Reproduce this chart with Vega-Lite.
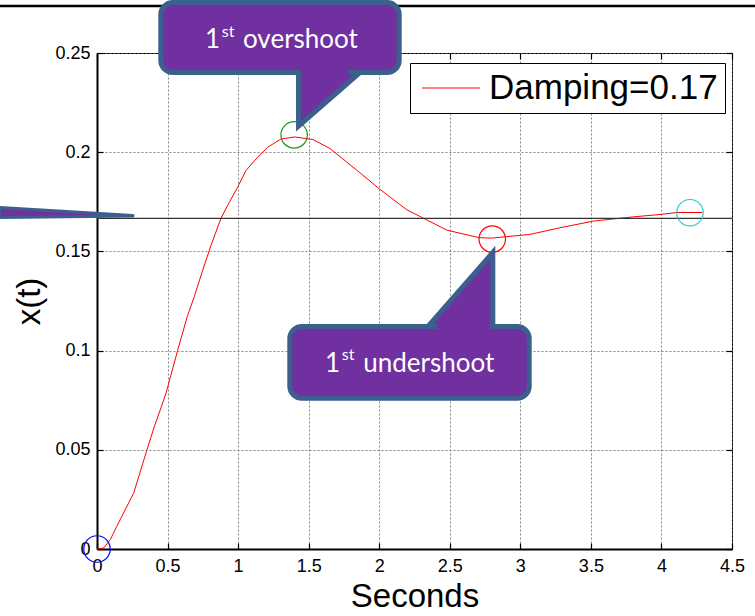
{
  "$schema": "https://vega.github.io/schema/vega-lite/v6.json",
  "width": 635,
  "height": 496,
  "autosize": {"type": "none"},
  "padding": {"left": 97, "top": 53, "right": 23, "bottom": 67},
  "background": "white",
  "config": {
    "view": {"stroke": "black", "strokeWidth": 1},
    "font": "Liberation Sans"
  },
  "datasets": {
    "curve": [
      {"t": 0, "x": 0, "series": "Damping=0.17"},
      {"t": 0.047, "x": 0.0005, "series": "Damping=0.17"},
      {"t": 0.094, "x": 0.0047, "series": "Damping=0.17"},
      {"t": 0.14, "x": 0.0114, "series": "Damping=0.17"},
      {"t": 0.26, "x": 0.0282, "series": "Damping=0.17"},
      {"t": 0.354, "x": 0.05, "series": "Damping=0.17"},
      {"t": 0.405, "x": 0.0614, "series": "Damping=0.17"},
      {"t": 0.488, "x": 0.0782, "series": "Damping=0.17"},
      {"t": 0.571, "x": 0.1, "series": "Damping=0.17"},
      {"t": 0.642, "x": 0.1177, "series": "Damping=0.17"},
      {"t": 0.688, "x": 0.1269, "series": "Damping=0.17"},
      {"t": 0.748, "x": 0.1403, "series": "Damping=0.17"},
      {"t": 0.807, "x": 0.1529, "series": "Damping=0.17"},
      {"t": 0.877, "x": 0.1664, "series": "Damping=0.17"},
      {"t": 0.925, "x": 0.1731, "series": "Damping=0.17"},
      {"t": 0.996, "x": 0.1823, "series": "Damping=0.17"},
      {"t": 1.055, "x": 0.1907, "series": "Damping=0.17"},
      {"t": 1.137, "x": 0.1974, "series": "Damping=0.17"},
      {"t": 1.208, "x": 0.2024, "series": "Damping=0.17"},
      {"t": 1.302, "x": 0.2066, "series": "Damping=0.17"},
      {"t": 1.4, "x": 0.2077, "series": "Damping=0.17"},
      {"t": 1.53, "x": 0.2064, "series": "Damping=0.17"},
      {"t": 1.65, "x": 0.2019, "series": "Damping=0.17"},
      {"t": 1.84, "x": 0.191, "series": "Damping=0.17"},
      {"t": 2.01, "x": 0.181, "series": "Damping=0.17"},
      {"t": 2.195, "x": 0.171, "series": "Damping=0.17"},
      {"t": 2.48, "x": 0.1607, "series": "Damping=0.17"},
      {"t": 2.71, "x": 0.1569, "series": "Damping=0.17"},
      {"t": 2.8, "x": 0.1567, "series": "Damping=0.17"},
      {"t": 2.9, "x": 0.1574, "series": "Damping=0.17"},
      {"t": 3.07, "x": 0.1586, "series": "Damping=0.17"},
      {"t": 3.28, "x": 0.1619, "series": "Damping=0.17"},
      {"t": 3.52, "x": 0.1653, "series": "Damping=0.17"},
      {"t": 3.8, "x": 0.1674, "series": "Damping=0.17"},
      {"t": 3.99, "x": 0.1686, "series": "Damping=0.17"},
      {"t": 4.11, "x": 0.1696, "series": "Damping=0.17"},
      {"t": 4.29, "x": 0.1696, "series": "Damping=0.17"}
    ],
    "circles": [
      {"t": 0, "x": 0, "c": "#0000FF"},
      {"t": 1.397, "x": 0.2087, "c": "#1A961A"},
      {"t": 2.801, "x": 0.1562, "c": "#FF0000"},
      {"t": 4.202, "x": 0.1695, "c": "#2FC8C8"}
    ],
    "levels": [
      {"x": 0, "x2": 4.5, "y": 0.16667}
    ],
    "border": [
      {"x": -0.6874, "x2": 4.663, "y": 0.2737}
    ],
    "wedge": [
      {"x": -0.6874, "y": 0.16709, "y2": 0.17213},
      {"x": 0.2551, "y": 0.16784, "y2": 0.1681}
    ],
    "tails": [
      {"id": "a", "x": 1.428, "y": 0.21321, "y2": 0.24017},
      {"id": "a", "x": 1.8638, "y": 0.24017, "y2": 0.24017},
      {"id": "b", "x": 2.3457, "y": 0.11215, "y2": 0.11215},
      {"id": "b", "x": 2.805, "y": 0.14945, "y2": 0.11215}
    ],
    "boxes": [
      {"x": 0.4521, "x2": 2.1416, "y": 0.24017, "y2": 0.27545},
      {"x": 1.3663, "x2": 3.0628, "y": 0.07601, "y2": 0.11215}
    ],
    "joins": [
      {"x": 1.4457, "x2": 1.7787, "y": 0.2379, "y2": 0.24194},
      {"x": 2.4094, "x2": 2.7815, "y": 0.10988, "y2": 0.11442}
    ],
    "texts": [
      {"x": 0.7654, "y": 0.25237, "label": "1"},
      {"x": 1.0346, "y": 0.25237, "label": "overshoot"},
      {"x": 1.6157, "y": 0.08936, "label": "1"},
      {"x": 1.8872, "y": 0.08936, "label": "undershoot"}
    ],
    "sups": [
      {"x": 0.8837, "y": 0.25822, "label": "st"},
      {"x": 1.7341, "y": 0.09526, "label": "st"}
    ]
  },
  "resolve": {"axis": {"x": "independent", "y": "independent"}},
  "layer": [
    {
      "data": {"name": "curve"},
      "mark": {"type": "line", "strokeWidth": 1, "interpolate": "linear"},
      "encoding": {
        "x": {
          "field": "t", "type": "quantitative",
          "scale": {"domain": [0, 4.5], "nice": false, "zero": false},
          "axis": {
            "orient": "bottom", "values": [0, 0.5, 1, 1.5, 2, 2.5, 3, 3.5, 4, 4.5], "format": "~g",
            "grid": true, "gridColor": "#666666", "gridDash": [2, 2], "gridWidth": 0.8,
            "domain": true, "domainColor": "black", "domainWidth": 2,
            "ticks": true, "tickSize": -6, "tickColor": "black", "tickWidth": 1.2,
            "labelFont": "Liberation Sans", "labelFontSize": 18, "labelColor": "black",
            "labelPadding": 14, "labelFlush": false,
            "title": "Seconds", "titleFont": "Liberation Sans", "titleFontSize": 33,
            "titleFontWeight": "normal", "titleColor": "black", "titlePadding": 5, "zindex": 0
          }
        },
        "y": {
          "field": "x", "type": "quantitative",
          "scale": {"domain": [0, 0.25], "nice": false, "zero": false},
          "axis": {
            "orient": "left", "values": [0, 0.05, 0.1, 0.15, 0.2, 0.25], "format": "~g",
            "grid": true, "gridColor": "#666666", "gridDash": [2, 2], "gridWidth": 0.8,
            "domain": true, "domainColor": "black", "domainWidth": 2,
            "ticks": true, "tickSize": -6, "tickColor": "black", "tickWidth": 1.2,
            "labelFont": "Liberation Sans", "labelFontSize": 18, "labelColor": "black",
            "labelPadding": 13, "labelFlush": false,
            "title": "x(t)", "titleFont": "Liberation Sans", "titleFontSize": 33,
            "titleFontWeight": "normal", "titleColor": "black", "titlePadding": 8, "zindex": 0
          }
        },
        "color": {
          "field": "series", "type": "nominal",
          "scale": {"domain": ["Damping=0.17"], "range": ["#FF0000"]},
          "legend": {
            "title": null, "orient": "none", "legendX": 313, "legendY": 10,
            "symbolType": "M-1.66,0L1.66,0", "symbolSize": 1225, "symbolStrokeWidth": 1,
            "labelFont": "Liberation Sans", "labelFontSize": 35, "labelColor": "black",
            "labelLimit": 0, "labelOffset": 20, "padding": 7, "symbolOffset": 16,
            "strokeColor": "black", "fillColor": "white"
          }
        }
      }
    },
    {
      "data": {"name": "levels"},
      "mark": {"type": "rule", "color": "#333333", "strokeWidth": 1.2},
      "encoding": {
        "x": {
          "field": "x", "type": "quantitative",
          "scale": {"domain": [0, 4.5], "nice": false, "zero": false},
          "axis": {
            "orient": "top", "values": [0, 0.5, 1, 1.5, 2, 2.5, 3, 3.5, 4, 4.5],
            "grid": false, "domain": false, "labels": false, "title": null,
            "ticks": true, "tickSize": -6, "tickColor": "black", "tickWidth": 1.2, "zindex": 0
          }
        },
        "x2": {"field": "x2"},
        "y": {
          "field": "y", "type": "quantitative",
          "scale": {"domain": [0, 0.25], "nice": false, "zero": false},
          "axis": {
            "orient": "right", "values": [0, 0.05, 0.1, 0.15, 0.2, 0.25],
            "grid": false, "domain": false, "labels": false, "title": null,
            "ticks": true, "tickSize": -6, "tickColor": "black", "tickWidth": 1.2, "zindex": 0
          }
        }
      }
    },
    {
      "data": {"name": "border"},
      "mark": {"type": "rule", "color": "black", "strokeWidth": 2.5, "clip": false},
      "encoding": {
        "x": {"field": "x", "type": "quantitative", "scale": {"domain": [0, 4.5], "nice": false, "zero": false}, "axis": null},
        "x2": {"field": "x2"},
        "y": {"field": "y", "type": "quantitative", "scale": {"domain": [0, 0.25], "nice": false, "zero": false}, "axis": null}
      }
    },
    {
      "data": {"name": "circles"},
      "mark": {"type": "point", "shape": "circle", "filled": false, "size": 700, "strokeWidth": 1.2, "opacity": 1},
      "encoding": {
        "x": {"field": "t", "type": "quantitative", "scale": {"domain": [0, 4.5], "nice": false, "zero": false}, "axis": null},
        "y": {"field": "x", "type": "quantitative", "scale": {"domain": [0, 0.25], "nice": false, "zero": false}, "axis": null},
        "stroke": {"field": "c", "type": "nominal", "scale": null, "legend": null}
      }
    },
    {
      "data": {"name": "wedge"},
      "mark": {"type": "area", "orient": "vertical", "fill": "#7030A0", "stroke": "#3C5F8E", "strokeWidth": 3, "strokeJoin": "round", "clip": false},
      "encoding": {
        "x": {"field": "x", "type": "quantitative", "scale": {"domain": [0, 4.5], "nice": false, "zero": false}, "axis": null},
        "y": {"field": "y", "type": "quantitative", "scale": {"domain": [0, 0.25], "nice": false, "zero": false}, "axis": null},
        "y2": {"field": "y2"}
      }
    },
    {
      "data": {"name": "tails"},
      "mark": {"type": "area", "orient": "vertical", "fill": "#7030A0", "stroke": "#3C5F8E", "strokeWidth": 5, "clip": false},
      "encoding": {
        "x": {"field": "x", "type": "quantitative", "scale": {"domain": [0, 4.5], "nice": false, "zero": false}, "axis": null},
        "y": {"field": "y", "type": "quantitative", "scale": {"domain": [0, 0.25], "nice": false, "zero": false}, "axis": null},
        "y2": {"field": "y2"},
        "detail": {"field": "id", "type": "nominal"}
      }
    },
    {
      "data": {"name": "boxes"},
      "mark": {"type": "rect", "fill": "#7030A0", "stroke": "#3C5F8E", "strokeWidth": 5, "cornerRadius": 12, "clip": false},
      "encoding": {
        "x": {"field": "x", "type": "quantitative", "scale": {"domain": [0, 4.5], "nice": false, "zero": false}, "axis": null},
        "x2": {"field": "x2"},
        "y": {"field": "y", "type": "quantitative", "scale": {"domain": [0, 0.25], "nice": false, "zero": false}, "axis": null},
        "y2": {"field": "y2"}
      }
    },
    {
      "data": {"name": "joins"},
      "mark": {"type": "rect", "fill": "#7030A0", "strokeWidth": 0, "clip": false},
      "encoding": {
        "x": {"field": "x", "type": "quantitative", "scale": {"domain": [0, 4.5], "nice": false, "zero": false}, "axis": null},
        "x2": {"field": "x2"},
        "y": {"field": "y", "type": "quantitative", "scale": {"domain": [0, 0.25], "nice": false, "zero": false}, "axis": null},
        "y2": {"field": "y2"}
      }
    },
    {
      "data": {"name": "texts"},
      "mark": {"type": "text", "align": "left", "baseline": "alphabetic", "font": "Lato", "fontSize": 26, "color": "white", "clip": false},
      "encoding": {
        "x": {"field": "x", "type": "quantitative", "scale": {"domain": [0, 4.5], "nice": false, "zero": false}, "axis": null},
        "y": {"field": "y", "type": "quantitative", "scale": {"domain": [0, 0.25], "nice": false, "zero": false}, "axis": null},
        "text": {"field": "label"}
      }
    },
    {
      "data": {"name": "sups"},
      "mark": {"type": "text", "align": "left", "baseline": "alphabetic", "font": "Lato", "fontSize": 16, "color": "white", "clip": false},
      "encoding": {
        "x": {"field": "x", "type": "quantitative", "scale": {"domain": [0, 4.5], "nice": false, "zero": false}, "axis": null},
        "y": {"field": "y", "type": "quantitative", "scale": {"domain": [0, 0.25], "nice": false, "zero": false}, "axis": null},
        "text": {"field": "label"}
      }
    }
  ]
}
